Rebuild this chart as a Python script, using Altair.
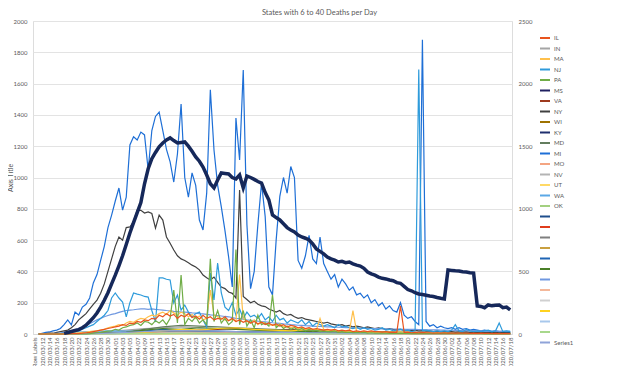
import altair as alt
import pandas as pd

# ---------------- categories ----------------
days = pd.date_range("2020-03-11", "2020-07-18", freq="D").strftime("%Y/%m/%d").tolist()
categories = ["Row Labels"] + days          # 131 categories
tick_labels = categories[::2]               # every other category is labelled
sparse_days = categories[5::5]              # every 5th day for the small series

series_names = ["IL", "IN", "MA", "NJ", "PA", "MS", "VA", "NY", "WI", "KY", "MD", "MI", "MO", "NV",
                "UT", "WA", "OK", "_1", "_2", "_3", "_4", "_5", "_6", "_7", "_8", "_9", "_10",
                "_11", "_12", "Series1"]
series_colors = ["#E8541E", "#A5A5A5", "#FFC04C", "#2E9BDB", "#70AD47", "#1F2060", "#9E3A1E",
                 "#404040", "#9E7200", "#1F2F6E", "#637D5E", "#1E6FD6", "#F4A582", "#B4B4B4",
                 "#FFD966", "#5BA8E6", "#A3D080", "#1F4E8C", "#E03C1C", "#7F7F7F", "#C9A040",
                 "#1E64B4", "#4A7F28", "#7098E0", "#F4B89A", "#D0D0D0", "#FFD21F", "#A8C8EC",
                 "#A8D88C", "#8FA3D8"]

# ---------------- daily series (days 1..130) ----------------
thick_total = [None, None, None, None, None, None, None, 5, 12, 20,
               28, 35, 50, 70, 100, 130, 168, 215, 270, 330,
               400, 470, 545, 625, 715, 807, 890, 970, 1050, 1200,
               1320, 1400, 1450, 1495, 1526, 1550, 1566, 1545, 1526, 1530,
               1534, 1500, 1460, 1414, 1380, 1334, 1270, 1200, 1167, 1230,
               1286, 1282, 1278, 1250, 1238, 1270, 1167, 1262, 1250, 1235,
               1218, 1206, 1130, 1071, 951, 930, 911, 880, 850, 830,
               815, 790, 775, 765, 751, 720, 680, 660, 640, 615,
               600, 590, 575, 580, 570, 575, 560, 550, 543, 525,
               495, 480, 470, 455, 445, 440, 431, 425, 410, 405,
               380, 355, 345, 330, 320, 315, 310, 304, 300, 292,
               285, 280, 511, 508, 505, 503, 498, 495, 490, 487,
               224, 220, 210, 232, 225, 230, 232, 210, 215, 192]

mi_vals = [0, 5, 10, 13, 20, 25, 35, 60, 90, 58,
           140, 121, 172, 190, 230, 326, 380, 470, 560, 680,
           760, 850, 933, 792, 875, 1208, 1260, 1240, 1290, 1272,
           1048, 1300, 1390, 1418, 1300, 1180, 1100, 971, 1150, 1470,
           1000, 875, 1029, 950, 728, 665, 900, 1560, 1176, 950,
           812, 660, 492, 300, 1380, 1112, 1687, 700, 290, 400,
           700, 965, 750, 300, 250, 600, 880, 1000, 900, 1070,
           1000, 470, 420, 500, 630, 480, 450, 620, 450, 400,
           350, 380, 300, 350, 320, 280, 300, 250, 260, 230,
           250, 200, 220, 180, 200, 160, 180, 150, 140, 200,
           120, 100, 110, 80, 60, 1880, 80, 50, 60, 40,
           50, 40, 35, 40, 30, 40, 30, 35, 25, 30,
           25, 20, 25, 20, 15, 20, 15, 15, 12, 10]

ny_vals = [0, 0, 2, 5, 5, 10, 15, 20, 25, 40,
           60, 90, 110, 130, 160, 190, 217, 260, 320, 400,
           480, 560, 620, 600, 680, 684, 720, 792, 790, 773,
           780, 770, 677, 760, 728, 620, 580, 537, 500, 480,
           470, 455, 440, 428, 410, 377, 360, 345, 364, 330,
           300, 290, 268, 260, 230, 920, 240, 220, 200, 210,
           190, 180, 175, 160, 150, 140, 150, 130, 120, 125,
           110, 100, 105, 95, 90, 85, 80, 75, 70, 75,
           65, 60, 55, 60, 50, 55, 45, 50, 45, 40,
           45, 40, 35, 40, 35, 30, 35, 30, 28, 30,
           25, 28, 22, 25, 20, 22, 18, 20, 15, 18,
           15, 16, 14, 15, 12, 14, 12, 13, 10, 12,
           10, 12, 9, 10, 8, 10, 8, 9, 7, 8]

smooth_vals = [0, 0, 0, 0, 2, 4, 6, 10, 15, 20,
               28, 35, 45, 55, 65, 78, 90, 100, 110, 118,
               125, 130, 138, 145, 150, 153, 155, 158, 160, 160,
               158, 160, 157, 155, 153, 150, 148, 145, 143, 140,
               140, 138, 135, 133, 130, 128, 125, 122, 120, 118,
               115, 112, 110, 105, 100, 98, 95, 90, 88, 85,
               82, 80, 78, 75, 72, 70, 68, 65, 63, 60,
               58, 56, 55, 53, 52, 50, 49, 48, 47, 46,
               45, 44, 43, 42, 41, 40, 39, 38, 37, 36,
               35, 35, 34, 34, 33, 33, 32, 32, 31, 31,
               30, 30, 29, 29, 28, 28, 27, 27, 26, 26,
               25, 25, 24, 24, 23, 23, 22, 22, 21, 21,
               20, 20, 19, 19, 18, 18, 17, 17, 16, 16]

nj_vals = [0, 0, 0, 0, 0, 2, 3, 5, 8, 10,
           15, 20, 30, 40, 50, 60, 80, 100, 120, 150,
           230, 262, 230, 204, 109, 200, 262, 255, 249, 240,
           236, 150, 77, 358, 358, 350, 345, 198, 249, 153,
           185, 140, 109, 130, 141, 90, 45, 390, 217, 454,
           262, 172, 150, 200, 120, 160, 100, 140, 110, 120,
           100, 130, 90, 110, 80, 120, 90, 100, 70, 90,
           80, 70, 90, 60, 80, 50, 70, 60, 50, 60,
           50, 40, 60, 45, 50, 40, 35, 45, 30, 40,
           30, 35, 25, 30, 40, 25, 30, 20, 25, 30,
           20, 25, 15, 20, 1690, 20, 25, 20, 15, 20,
           15, 20, 15, 25, 60, 20, 15, 30, 20, 15,
           20, 15, 20, 25, 15, 20, 70, 15, 20, 15]

ma_vals = [0, 0, 0, 0, 0, 0, 0, 2, 3, 5,
           5, 8, 10, 12, 15, 18, 20, 25, 30, 40,
           45, 50, 60, 55, 70, 80, 75, 90, 100, 95,
           110, 120, 115, 130, 140, 125, 150, 135, 120, 140,
           130, 110, 125, 100, 115, 90, 100, 280, 120, 110,
           100, 90, 85, 95, 80, 380, 100, 80, 70, 90,
           60, 75, 70, 55, 60, 50, 65, 45, 50, 40,
           45, 35, 40, 30, 35, 30, 25, 100, 30, 20,
           25, 20, 20, 15, 20, 15, 150, 15, 10, 15,
           10, 12, 10, 10, 8, 10, 8, 10, 6, 8,
           6, 8, 5, 6, 5, 6, 5, 5, 4, 5,
           4, 5, 4, 4, 3, 4, 3, 3, 3, 3,
           3, 3, 2, 3, 2, 3, 2, 2, 2, 2]

pa_vals = [0, 0, 0, 0, 0, 0, 0, 0, 0, 0,
           0, 0, 0, 0, 2, 5, 8, 10, 15, 18,
           20, 30, 25, 40, 45, 55, 60, 70, 55, 80,
           75, 60, 85, 70, 90, 60, 100, 280, 70, 377,
           60, 100, 80, 110, 70, 90, 60, 480, 80, 150,
           70, 100, 60, 80, 540, 60, 150, 50, 90, 40,
           120, 60, 70, 50, 250, 40, 60, 35, 50, 30,
           40, 25, 35, 20, 30, 20, 25, 15, 20, 15,
           15, 20, 10, 15, 10, 12, 8, 10, 8, 10,
           6, 8, 5, 6, 5, 6, 4, 5, 4, 5,
           4, 4, 3, 4, 3, 3, 3, 3, 2, 3,
           2, 3, 2, 2, 2, 2, 2, 2, 2, 2,
           2, 2, 1, 2, 1, 2, 1, 1, 1, 1]

il_vals = [0, 0, 0, 0, 0, 0, 0, 0, 1, 2,
           2, 3, 5, 8, 10, 15, 20, 25, 30, 35,
           40, 45, 50, 60, 55, 70, 65, 80, 75, 90,
           85, 100, 95, 120, 110, 130, 115, 125, 100, 120,
           110, 130, 105, 115, 95, 120, 100, 110, 90, 100,
           95, 110, 85, 100, 80, 90, 75, 85, 70, 80,
           65, 75, 60, 70, 55, 65, 50, 60, 45, 55,
           50, 40, 45, 35, 40, 30, 35, 30, 25, 30,
           25, 30, 20, 25, 20, 25, 15, 20, 15, 20,
           15, 20, 15, 15, 12, 15, 10, 12, 10, 180,
           10, 12, 8, 10, 8, 10, 8, 8, 6, 8,
           6, 8, 6, 6, 5, 6, 5, 5, 4, 5,
           4, 5, 4, 4, 3, 4, 3, 3, 3, 3]

daily = {"MI": mi_vals, "NY": ny_vals, "_7": smooth_vals, "NJ": nj_vals,
         "MA": ma_vals, "PA": pa_vals, "IL": il_vals}

# ---------------- small series, every 5th day ----------------
sparse = {
    "IN": [0, 0, 5, 15, 25, 35, 40, 45, 40, 35, 30, 30, 25, 20, 20, 15, 15, 10, 10, 10, 8, 8, 6, 6, 5, 5],
    "MS": [0, 0, 1, 3, 5, 8, 10, 12, 12, 10, 10, 12, 10, 8, 10, 8, 6, 8, 5, 6, 5, 5, 4, 4, 3, 3],
    "VA": [0, 0, 1, 2, 5, 10, 15, 20, 25, 30, 35, 30, 25, 30, 20, 20, 15, 15, 12, 10, 10, 8, 8, 6, 6, 5],
    "WI": [0, 0, 2, 5, 8, 10, 8, 10, 6, 8, 5, 6, 5, 4, 5, 4, 3, 4, 3, 3, 2, 3, 2, 2, 2, 2],
    "KY": [0, 0, 1, 2, 5, 8, 10, 10, 8, 10, 8, 6, 8, 6, 5, 5, 4, 5, 4, 3, 3, 3, 2, 3, 2, 2],
    "MD": [0, 0, 2, 5, 15, 30, 45, 55, 50, 45, 40, 35, 30, 25, 20, 20, 15, 15, 12, 10, 10, 8, 8, 6, 6, 5],
    "MO": [0, 0, 1, 3, 6, 10, 15, 15, 12, 10, 12, 10, 8, 6, 8, 6, 5, 5, 4, 4, 3, 3, 3, 2, 2, 2],
    "NV": [0, 0, 1, 3, 5, 6, 5, 4, 3, 3, 2, 2, 2, 2, 2, 1, 1, 1, 1, 2, 3, 4, 5, 6, 8, 10],
    "UT": [0, 0, 0, 1, 1, 1, 1, 1, 1, 1, 1, 1, 1, 1, 1, 1, 1, 2, 2, 2, 3, 3, 3, 4, 4, 4],
    "WA": [0, 10, 15, 20, 18, 15, 12, 10, 10, 8, 6, 5, 4, 4, 3, 3, 3, 3, 2, 3, 5, 8, 10, 12, 15, 18],
    "OK": [0, 0, 0, 1, 2, 3, 3, 3, 2, 2, 2, 2, 2, 1, 1, 1, 1, 1, 1, 2, 2, 3, 3, 4, 4, 5],
    "_1": [0, 0, 2, 5, 8, 12, 15, 12, 10, 10, 8, 8, 6, 6, 5, 5, 4, 4, 3, 3, 3, 2, 2, 2, 2, 2],
    "_2": [0, 0, 1, 3, 5, 8, 10, 12, 15, 12, 10, 8, 10, 6, 8, 5, 6, 4, 5, 3, 4, 3, 3, 2, 2, 2],
    "_3": [0, 0, 2, 6, 10, 15, 18, 20, 18, 15, 12, 10, 10, 8, 8, 6, 6, 5, 5, 4, 4, 3, 3, 3, 2, 2],
    "_4": [0, 0, 1, 2, 4, 6, 8, 10, 8, 6, 6, 5, 4, 4, 3, 3, 3, 2, 2, 2, 2, 2, 1, 1, 1, 1],
    "_5": [0, 0, 1, 4, 10, 20, 30, 25, 20, 18, 15, 12, 10, 8, 8, 6, 5, 5, 4, 4, 3, 3, 3, 2, 2, 2],
    "_6": [0, 0, 2, 5, 10, 25, 35, 30, 40, 35, 30, 25, 20, 18, 15, 12, 10, 10, 8, 8, 6, 6, 5, 5, 4, 4],
    "_8": [0, 0, 0, 1, 2, 3, 4, 5, 5, 4, 4, 3, 3, 3, 2, 2, 2, 2, 2, 1, 1, 1, 1, 1, 1, 1],
    "_9": [0, 0, 1, 2, 3, 4, 5, 6, 6, 5, 5, 4, 4, 3, 3, 3, 2, 2, 2, 2, 2, 2, 3, 3, 3, 3],
    "_10": [0, 0, 0, 2, 5, 10, 20, 30, 25, 35, 40, 30, 25, 20, 30, 25, 15, 15, 10, 12, 8, 8, 6, 6, 5, 5],
    "_11": [0, 0, 0, 1, 2, 3, 4, 4, 3, 3, 3, 2, 2, 2, 2, 2, 2, 3, 3, 4, 5, 6, 6, 8, 8, 10],
    "_12": [0, 0, 0, 1, 2, 3, 3, 4, 4, 3, 3, 3, 2, 2, 2, 2, 2, 2, 3, 3, 4, 4, 5, 5, 6, 6],
    "Series1": [0, 0, 2, 5, 10, 15, 20, 22, 20, 18, 15, 12, 10, 10, 8, 8, 6, 6, 5, 5, 4, 4, 4, 3, 3, 3],
}

rows = []
for name, vals in sparse.items():
    for c, v in zip(sparse_days, vals):
        rows.append({"cat": c, "series": name, "value": v})
for name, vals in daily.items():
    for c, v in zip(categories[1:], vals):
        rows.append({"cat": c, "series": name, "value": v})
df = pd.DataFrame(rows)

thick_df = pd.DataFrame({"cat": categories[1:], "value": thick_total}).dropna()

FONT = "Lato"
GREY = "#595959"

x_enc = alt.X("cat:O", sort=categories,
              scale=alt.Scale(domain=categories, type="point", padding=0.5),
              axis=alt.Axis(values=tick_labels, labelAngle=270, labelFontSize=6, labelColor=GREY,
                            labelFont=FONT, labelOverlap=False, ticks=False, domainColor="#D9D9D9",
                            labelPadding=3, title=None))

lines = alt.Chart(df).mark_line(strokeWidth=1.2).encode(
    x=x_enc,
    y=alt.Y("value:Q", scale=alt.Scale(domain=[0, 2000]),
            axis=alt.Axis(values=list(range(0, 2001, 200)), format="d", title="Axis Title",
                          grid=True, gridColor="#E3E3E3", domain=False, ticks=False,
                          labelFontSize=6, labelColor=GREY, labelFont=FONT, labelPadding=6,
                          titleFontSize=7, titleFontWeight="normal", titleColor=GREY,
                          titleFont=FONT, titlePadding=0)),
    color=alt.Color("series:N", scale=alt.Scale(domain=series_names, range=series_colors),
                    legend=alt.Legend(orient="none", legendX=504, legendY=11, title=None,
                                      symbolType="stroke", symbolStrokeWidth=2, symbolSize=100,
                                      labelFontSize=6, labelColor=GREY, labelFont=FONT,
                                      rowPadding=0.5, labelOffset=3, padding=0, symbolOffset=2,
                                      labelExpr="indexof(datum.label, '_') == 0 ? '' : datum.label")),
    detail="series:N",
    order=alt.Order("cat:O"),
)

thick = alt.Chart(thick_df).mark_line(strokeWidth=3.5, color="#16285A").encode(
    x=alt.X("cat:O", sort=categories, scale=alt.Scale(domain=categories, type="point", padding=0.5)),
    y=alt.Y("value:Q", scale=alt.Scale(domain=[0, 2500]),
            axis=alt.Axis(orient="right", values=[0, 500, 1000, 1500, 2000, 2500], format="d",
                          title=None, grid=False, domain=False, ticks=False, labelFontSize=6,
                          labelColor=GREY, labelFont=FONT, labelPadding=6)),
)

chart = alt.layer(lines, thick).resolve_scale(y="independent").properties(
    width=479, height=313,
    autosize=alt.AutoSizeParams(type="none"),
    padding={"left": 25, "top": 13, "right": 120, "bottom": 32},
    title=alt.TitleParams("States with  6 to 40 Deaths  per Day", fontSize=7.5, color=GREY,
                          font=FONT, fontWeight="normal", anchor="middle", offset=2, dx=47),
).configure_view(stroke=None).configure(background="white")

chart.save("out.html", embed_options={"renderer": "svg", "actions": False})
